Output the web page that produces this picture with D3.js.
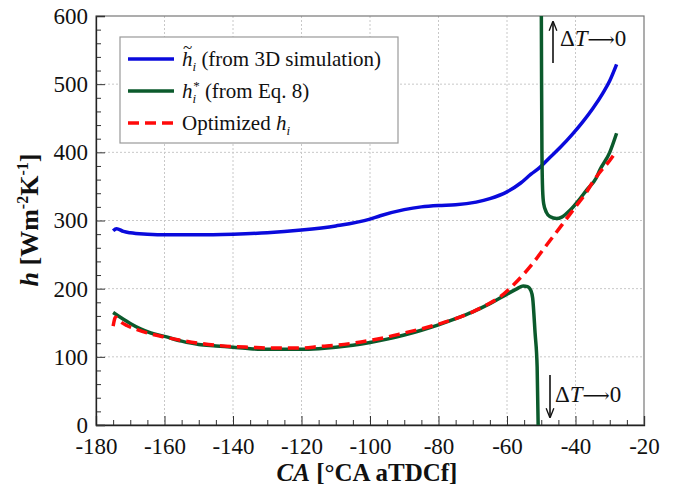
<!DOCTYPE html>
<html>
<head>
<meta charset="utf-8">
<script src="https://cdn.jsdelivr.net/npm/d3@7"></script>
<style>
  body { margin: 0; background: #fff; }
  svg text { font-family: "Liberation Serif", "DejaVu Serif", serif; }
</style>
</head>
<body>
<script>
// Data
var caBlue = [-175, -174, -172, -170, -165, -160, -150, -140, -130, -120, -110, -100, -97, -90, -85, -80, -75, -69, -65, -60, -56, -53, -50.4, -48, -44.5, -41, -38, -35, -32, -30, -28];
var hBlue  = [285, 288, 284, 282, 280, 279, 279, 280, 282, 286, 292, 302, 307, 316, 320, 322, 323, 327, 332, 342, 355, 368, 378, 390, 407, 426, 444, 464, 487, 505, 529];

// h* lower branch (goes to 0 as dT -> 0)
var caGreenA = [-175, -172, -170, -167, -164, -160, -155, -150, -145, -140, -135, -130, -125, -120, -115, -110, -105, -100, -95, -90, -85, -80, -75, -70, -65, -60, -57, -55.3, -54, -53, -52.5, -51.8, -51.2, -50.9];
var hGreenA  = [165, 155, 149, 141, 135, 130, 123, 118, 116, 114, 112, 111, 111, 111, 112, 114, 117, 121, 126, 132, 139, 147, 156, 166, 178, 192, 200, 204, 203, 197, 186, 135, 85, 0];

// h* upper branch (comes down from infinity)
var caGreenB = [-50.0, -49.9, -49.8, -49.6, -49.3, -48.5, -47.5, -45.5, -44, -41.6, -39, -36.7, -34, -32.9, -30, -28];
var hGreenB  = [640, 500, 400, 345, 325, 312, 306, 303, 305, 315, 330, 345, 362, 374, 400, 428];

var caRed = [-175, -174.3, -173, -171, -168, -165, -160, -155, -150, -145, -140, -135, -130, -125, -120, -115, -110, -105, -100, -95, -90, -85, -80, -75, -70, -66, -62, -58, -55, -52, -49.5, -46, -43, -40, -37, -35, -33, -30, -28];
var hRed  = [145, 158, 152, 146, 140, 135, 129, 124, 120, 117, 115, 114, 113, 113, 113, 115, 117, 120, 124, 129, 135, 141, 148, 156, 166, 176, 188, 206, 222, 240, 257, 280, 300, 320, 340, 356, 370, 388, 402];

var xTicks = [-180, -160, -140, -120, -100, -80, -60, -40, -20];
var yTicks = [0, 100, 200, 300, 400, 500, 600];

var width = 683, height = 494;
var pLeft = 96, pRight = 644, pTop = 16, pBottom = 425;
var serif = "'Liberation Serif', 'DejaVu Serif', serif";

var svg = d3.select("body").append("svg")
            .attr("width", width)
            .attr("height", height);

var x = d3.scaleLinear().domain([-180, -20]).range([pLeft, pRight]);
var y = d3.scaleLinear().domain([0, 600]).range([pBottom, pTop]);

var defs = svg.append("defs");

// clip for curves
defs.append("clipPath").attr("id", "plot")
    .append("rect")
    .attr("x", pLeft).attr("y", pTop)
    .attr("width", pRight - pLeft).attr("height", pBottom - pTop);

// Grid lines
svg.append("g").selectAll("line")
   .data(xTicks.slice(1, -1))
   .enter().append("line")
   .attr("x1", d => x(d)).attr("x2", d => x(d))
   .attr("y1", pTop).attr("y2", pBottom)
   .style("stroke", "#c8c8c8")
   .style("stroke-width", 1)
   .style("stroke-dasharray", "2,2");

svg.append("g").selectAll("line")
   .data(yTicks.slice(1, -1))
   .enter().append("line")
   .attr("x1", pLeft).attr("x2", pRight)
   .attr("y1", d => y(d)).attr("y2", d => y(d))
   .style("stroke", "#c8c8c8")
   .style("stroke-width", 1)
   .style("stroke-dasharray", "2,2");

// Frame
svg.append("rect")
   .attr("x", pLeft).attr("y", pTop)
   .attr("width", pRight - pLeft).attr("height", pBottom - pTop)
   .style("fill", "none")
   .style("stroke", "#777")
   .style("stroke-width", 1.2);

// Axes with inside ticks
var xMinor = d3.range(-175, -20, 5).filter(d => d % 20 !== 0);
var yMinor = d3.range(20, 600, 20).filter(d => d % 100 !== 0);

svg.append("g")
   .attr("transform", "translate(0," + pBottom + ")")
   .call(d3.axisBottom(x).tickValues(xMinor).tickSize(-5).tickFormat(""))
   .call(g => g.select(".domain").remove());

svg.append("g")
   .attr("transform", "translate(" + pLeft + ",0)")
   .call(d3.axisLeft(y).tickValues(yMinor).tickSize(-5).tickFormat(""))
   .call(g => g.select(".domain").remove());

var xAxis = svg.append("g")
   .attr("transform", "translate(0," + pBottom + ")")
   .call(d3.axisBottom(x).tickValues(xTicks).tickSize(-9).tickPadding(13).tickFormat(d => String(d)));
xAxis.attr("font-family", serif);
xAxis.select(".domain").style("stroke", "#222").style("stroke-width", 1.3);
xAxis.selectAll("text")
     .style("font-family", serif)
     .style("font-size", "23px")
     .style("fill", "#111");

var yAxis = svg.append("g")
   .attr("transform", "translate(" + pLeft + ",0)")
   .call(d3.axisLeft(y).tickValues(yTicks).tickSize(-9).tickPadding(8).tickFormat(d => String(d)));
yAxis.attr("font-family", serif);
yAxis.select(".domain").style("stroke", "#222").style("stroke-width", 1.3);
yAxis.selectAll("text")
     .style("font-family", serif)
     .style("font-size", "23px")
     .style("fill", "#111");
svg.selectAll(".tick line").style("stroke", "#333");

// Curves
var line = d3.line()
             .x(d => x(d[0]))
             .y(d => y(d[1]))
             .curve(d3.curveMonotoneX);

var curves = svg.append("g").attr("clip-path", "url(#plot)");

curves.append("path")
      .datum(d3.zip(caBlue, hBlue))
      .attr("d", line)
      .style("fill", "none")
      .style("stroke", "#0a0adc")
      .style("stroke-width", 3.5);

curves.append("path")
      .datum(d3.zip(caGreenA, hGreenA))
      .attr("d", line)
      .style("fill", "none")
      .style("stroke", "#0b5a2c")
      .style("stroke-width", 3.5);

curves.append("path")
      .datum(d3.zip(caGreenB, hGreenB))
      .attr("d", line)
      .style("fill", "none")
      .style("stroke", "#0b5a2c")
      .style("stroke-width", 3.5);

curves.append("path")
      .datum(d3.zip(caRed, hRed))
      .attr("d", line)
      .style("fill", "none")
      .style("stroke", "#ff0a0a")
      .style("stroke-width", 3.5)
      .style("stroke-dasharray", "11,6");

// Arrow marker
defs.append("marker")
    .attr("id", "head")
    .attr("viewBox", "0 0 10 10")
    .attr("refX", 9).attr("refY", 5)
    .attr("markerWidth", 6).attr("markerHeight", 8)
    .attr("orient", "auto")
    .append("path")
    .attr("d", "M0,1 L10,5 L0,9")
    .style("fill", "none")
    .style("stroke", "#111")
    .style("stroke-width", 1.4);

function deltaLabel (ax, y1, y2, tx, ty) {
    svg.append("line")
       .attr("x1", ax).attr("x2", ax)
       .attr("y1", y1).attr("y2", y2)
       .style("stroke", "#111")
       .style("stroke-width", 1.6)
       .attr("marker-end", "url(#head)");
    var t = svg.append("text")
               .attr("x", tx).attr("y", ty)
               .style("font-family", serif)
               .style("font-size", "23px")
               .style("fill", "#111");
    t.append("tspan").text("Δ");
    t.append("tspan").style("font-style", "italic").text("T");
    t.append("tspan").style("font-family", "'DejaVu Serif', serif").style("font-size", "19px").text("⟶");
    t.append("tspan").text("0");
}
deltaLabel(553, 63, 22, 560, 46);
deltaLabel(550, 375, 417, 555, 402);

// Legend
var legend = svg.append("g").style("font-family", serif);
legend.append("rect")
      .attr("x", 120).attr("y", 37)
      .attr("width", 278).attr("height", 106)
      .style("fill", "#fff")
      .style("stroke", "#999")
      .style("stroke-width", 1.2);

var legendRows = [
    {y: 59, color: "#0a0adc", dash: null},
    {y: 91, color: "#0b5a2c", dash: null},
    {y: 123, color: "#ff0a0a", dash: "11,6"}
];
legend.selectAll("line.key")
      .data(legendRows)
      .enter().append("line")
      .attr("x1", 128).attr("x2", 174)
      .attr("y1", d => d.y).attr("y2", d => d.y)
      .style("stroke", d => d.color)
      .style("stroke-width", 3.5)
      .style("stroke-dasharray", d => d.dash);

var tx = 182;
var t1 = legend.append("text").attr("x", tx).attr("y", 66).style("font-size", "21px").style("fill", "#111");
t1.append("tspan").style("font-style", "italic").text("h");
t1.append("tspan").style("font-style", "italic").style("font-size", "13px").attr("dy", 5).text("i");
t1.append("tspan").attr("dy", -5).text(" (from 3D simulation)");
legend.append("text")
      .attr("x", tx + 1).attr("y", 53)
      .style("font-size", "17px")
      .style("fill", "#111")
      .text("~");

var t2 = legend.append("text").attr("x", tx).attr("y", 98).style("font-size", "21px").style("fill", "#111");
t2.append("tspan").style("font-style", "italic").text("h");
t2.append("tspan").style("font-style", "italic").style("font-size", "13px").attr("dy", 5).text("i");
t2.append("tspan").style("font-size", "13px").attr("dx", -3).attr("dy", -13).text("*");
t2.append("tspan").attr("dy", 8).text(" (from Eq. 8)");

var t3 = legend.append("text").attr("x", tx).attr("y", 130).style("font-size", "21px").style("fill", "#111");
t3.append("tspan").text("Optimized ");
t3.append("tspan").style("font-style", "italic").text("h");
t3.append("tspan").style("font-style", "italic").style("font-size", "13px").attr("dy", 5).text("i");

// Axis titles
var xt = svg.append("text")
            .attr("x", (pLeft + pRight) / 2 - 3)
            .attr("y", 481)
            .attr("text-anchor", "middle")
            .style("font-family", serif)
            .style("font-size", "25px")
            .style("font-weight", "bold")
            .style("fill", "#111");
xt.append("tspan").style("font-style", "italic").text("CA");
xt.append("tspan").text(" [°CA aTDCf]");

var yt = svg.append("text")
            .attr("transform", "translate(38,220) rotate(-90)")
            .attr("text-anchor", "middle")
            .style("font-family", serif)
            .style("font-size", "26px")
            .style("font-weight", "bold")
            .style("fill", "#111");
yt.append("tspan").style("font-style", "italic").text("h");
yt.append("tspan").text(" [Wm");
yt.append("tspan").style("font-size", "16px").attr("dy", -10).text("-2");
yt.append("tspan").attr("dy", 10).text("K");
yt.append("tspan").style("font-size", "16px").attr("dy", -10).text("-1");
yt.append("tspan").attr("dy", 10).text("]");
</script>
</body>
</html>
